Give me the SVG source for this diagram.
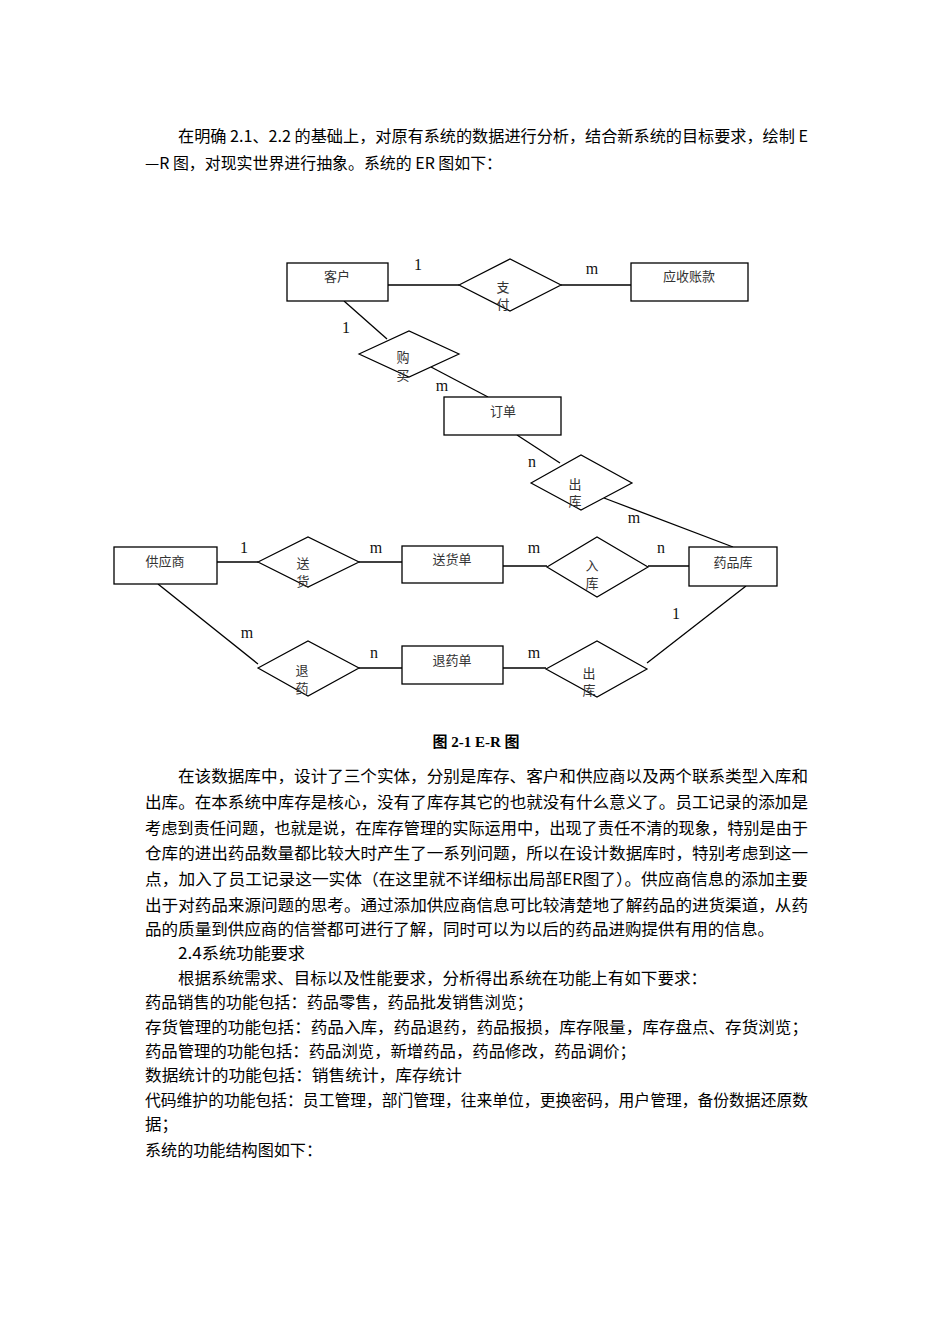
<svg xmlns="http://www.w3.org/2000/svg" width="950" height="1344" viewBox="0 0 950 1344">
<style>
.bg{fill:#fff}
.ent{fill:#fff;stroke:#000;stroke-width:1.3}
.rel{fill:#fff;stroke:#000;stroke-width:1.2}
.nt{font-family:"Noto Sans CJK SC","Noto Sans CJK JP",sans-serif;font-size:13px;fill:#333;text-anchor:middle}
.lbl{font-family:"Liberation Serif",serif;font-size:16px;fill:#111;text-anchor:middle}
.p{font-family:"Noto Sans CJK SC","Noto Sans CJK JP",sans-serif;font-size:16px;fill:#000}
.cap{font-family:"Liberation Serif","Noto Sans CJK SC",serif;font-size:15px;font-weight:bold;fill:#000;text-anchor:middle}
.conn line{stroke:#000;stroke-width:1.3}
</style>
<rect class="bg" x="0" y="0" width="950" height="1344"/>

<g id="intro">
<text class="p" x="178" y="142" textLength="630" lengthAdjust="spacingAndGlyphs">在明确 2.1、2.2 的基础上，对原有系统的数据进行分析，结合新系统的目标要求，绘制 E</text>
<text class="p" x="145" y="169" textLength="357" lengthAdjust="spacingAndGlyphs">—R 图，对现实世界进行抽象。系统的 ER 图如下：</text>
</g>

<g class="conn" id="connectors">
<line x1="388" y1="285" x2="459" y2="285"/>
<line x1="561" y1="285" x2="631" y2="285"/>
<line x1="344" y1="301" x2="387" y2="339"/>
<line x1="431" y1="367" x2="488" y2="397"/>
<line x1="517" y1="435" x2="560" y2="463"/>
<line x1="604" y1="498" x2="733" y2="547"/>
<line x1="217" y1="562" x2="258" y2="562"/>
<line x1="359" y1="562" x2="402" y2="562"/>
<line x1="503" y1="566" x2="547" y2="566"/>
<line x1="648" y1="566" x2="689" y2="566"/>
<line x1="158" y1="584" x2="258" y2="664"/>
<line x1="359" y1="668" x2="402" y2="668"/>
<line x1="503" y1="668" x2="546" y2="668"/>
<line x1="746" y1="586" x2="647" y2="663"/>
</g>

<g id="e-kehu"><rect class="ent" x="287" y="263" width="101" height="38"/><text class="nt" x="337" y="281">客户</text></g>
<g id="r-zhifu"><polygon class="rel" points="459,285 510,259 561,285 510,311"/><text class="nt" x="503" y="292">支</text><text class="nt" x="503" y="309">付</text></g>
<g id="e-yingshou"><rect class="ent" x="631" y="263" width="117" height="38"/><text class="nt" x="689" y="281">应收账款</text></g>
<g id="r-goumai"><polygon class="rel" points="359,354 409,331 459,354 409,377"/><text class="nt" x="403" y="362">购</text><text class="nt" x="403" y="380">买</text></g>
<g id="e-dingdan"><rect class="ent" x="444" y="397" width="117" height="38"/><text class="nt" x="503" y="416">订单</text></g>
<g id="r-chuku1"><polygon class="rel" points="531,483 581,455 632,483 581,510"/><text class="nt" x="575" y="489">出</text><text class="nt" x="575" y="506">库</text></g>
<g id="e-gongying"><rect class="ent" x="114" y="547" width="103" height="37"/><text class="nt" x="165" y="566">供应商</text></g>
<g id="r-songhuo"><polygon class="rel" points="258,562 308,537 359,562 308,587"/><text class="nt" x="303" y="568">送</text><text class="nt" x="303" y="586">货</text></g>
<g id="e-songhuodan"><rect class="ent" x="402" y="546" width="101" height="37"/><text class="nt" x="452" y="564">送货单</text></g>
<g id="r-ruku"><polygon class="rel" points="547,567 597,537 648,567 597,597"/><text class="nt" x="592" y="570">入</text><text class="nt" x="592" y="588">库</text></g>
<g id="e-yaopinku"><rect class="ent" x="689" y="547" width="88" height="39"/><text class="nt" x="733" y="567">药品库</text></g>
<g id="r-tuiyao"><polygon class="rel" points="258,668 308,641 359,668 308,696"/><text class="nt" x="302" y="675">退</text><text class="nt" x="302" y="693">药</text></g>
<g id="e-tuiyaodan"><rect class="ent" x="402" y="646" width="101" height="38"/><text class="nt" x="452" y="665">退药单</text></g>
<g id="r-chuku2"><polygon class="rel" points="546,669 597,641 647,669 597,697"/><text class="nt" x="589" y="678">出</text><text class="nt" x="589" y="695">库</text></g>

<g id="labels">
<text class="lbl" x="418" y="270">1</text>
<text class="lbl" x="592" y="274">m</text>
<text class="lbl" x="346" y="333">1</text>
<text class="lbl" x="442" y="391">m</text>
<text class="lbl" x="532" y="467">n</text>
<text class="lbl" x="634" y="523">m</text>
<text class="lbl" x="244" y="553">1</text>
<text class="lbl" x="376" y="553">m</text>
<text class="lbl" x="534" y="553">m</text>
<text class="lbl" x="661" y="553">n</text>
<text class="lbl" x="247" y="638">m</text>
<text class="lbl" x="374" y="658">n</text>
<text class="lbl" x="534" y="658">m</text>
<text class="lbl" x="676" y="619">1</text>
</g>

<text class="cap" x="476" y="747">图 2-1  E-R 图</text>

<g id="body">
<text class="p" x="178" y="782" textLength="630" lengthAdjust="spacingAndGlyphs">在该数据库中，设计了三个实体，分别是库存、客户和供应商以及两个联系类型入库和</text>
<text class="p" x="145" y="808" textLength="663" lengthAdjust="spacingAndGlyphs">出库。在本系统中库存是核心，没有了库存其它的也就没有什么意义了。员工记录的添加是</text>
<text class="p" x="145" y="834" textLength="663" lengthAdjust="spacingAndGlyphs">考虑到责任问题，也就是说，在库存管理的实际运用中，出现了责任不清的现象，特别是由于</text>
<text class="p" x="145" y="859" textLength="663" lengthAdjust="spacingAndGlyphs">仓库的进出药品数量都比较大时产生了一系列问题，所以在设计数据库时，特别考虑到这一</text>
<text class="p" x="145" y="885" textLength="663" lengthAdjust="spacingAndGlyphs">点，加入了员工记录这一实体（在这里就不详细标出局部ER图了）。供应商信息的添加主要</text>
<text class="p" x="145" y="911" textLength="663" lengthAdjust="spacingAndGlyphs">出于对药品来源问题的思考。通过添加供应商信息可比较清楚地了解药品的进货渠道，从药</text>
<text class="p" x="145" y="935" textLength="629" lengthAdjust="spacingAndGlyphs">品的质量到供应商的信誉都可进行了解，同时可以为以后的药品进购提供有用的信息。</text>
<text class="p" x="178" y="959" textLength="127" lengthAdjust="spacingAndGlyphs">2.4系统功能要求</text>
<text class="p" x="178" y="984" textLength="529" lengthAdjust="spacingAndGlyphs">根据系统需求、目标以及性能要求，分析得出系统在功能上有如下要求：</text>
<text class="p" x="145" y="1008" textLength="388" lengthAdjust="spacingAndGlyphs">药品销售的功能包括：药品零售，药品批发销售浏览；</text>
<text class="p" x="145" y="1033" textLength="663" lengthAdjust="spacingAndGlyphs">存货管理的功能包括：药品入库，药品退药，药品报损，库存限量，库存盘点、存货浏览；</text>
<text class="p" x="145" y="1057" textLength="491" lengthAdjust="spacingAndGlyphs">药品管理的功能包括：药品浏览，新增药品，药品修改，药品调价；</text>
<text class="p" x="145" y="1081" textLength="317" lengthAdjust="spacingAndGlyphs">数据统计的功能包括：销售统计，库存统计</text>
<text class="p" x="145" y="1106" textLength="663" lengthAdjust="spacingAndGlyphs">代码维护的功能包括：员工管理，部门管理，往来单位，更换密码，用户管理，备份数据还原数</text>
<text class="p" x="145" y="1130" textLength="33" lengthAdjust="spacingAndGlyphs">据；</text>
<text class="p" x="145" y="1156" textLength="177" lengthAdjust="spacingAndGlyphs">系统的功能结构图如下：</text>
</g>
</svg>
